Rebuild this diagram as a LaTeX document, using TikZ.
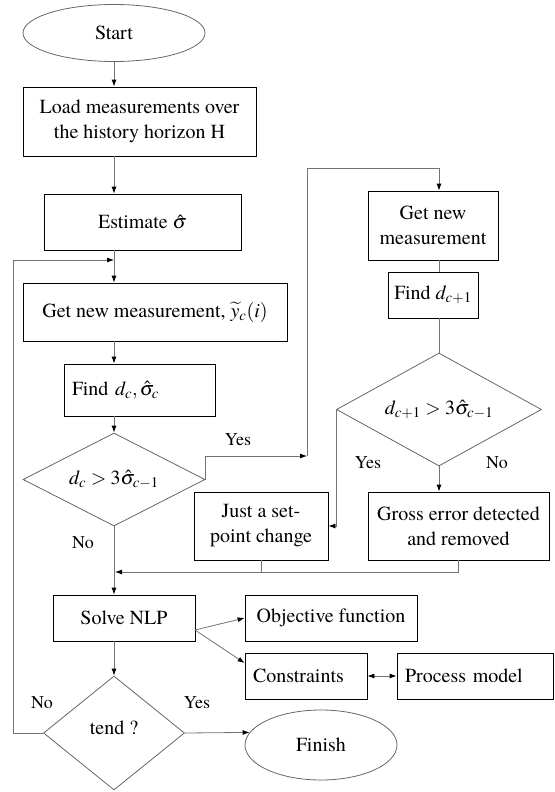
\documentclass[tikz,border=0pt]{standalone}
\usepackage{amsmath}
\usepackage{mathptmx}
\usepackage[no-math]{fontspec}
\setmainfont{texgyretermes-regular.otf}
\usetikzlibrary{arrows.meta,shapes.geometric}

\begin{document}
\begin{tikzpicture}[x=1pt, y=-1pt, line width=0.8pt, font=\fontsize{20}{25}\selectfont, -{Latex[length=7pt,width=5pt,color=black]}]
	\useasboundingbox (0,0) rectangle (554,792);
      \tikzstyle{box} = [draw=black, rectangle, inner sep=4pt, align=center]
      \tikzstyle{terminal} = [draw=black!60, ellipse, inner sep=0pt]
      \tikzstyle{test} = [draw=black!60, diamond, aspect=2, inner sep=0pt]
      \tikzstyle{answer} = [font=\fontsize{18}{22}\selectfont]
      \tikzstyle{link} = [draw=black!55]
      \node (Start) at (114,33) [terminal, minimum width=182pt, minimum height=57pt] {Start};
      \node (loadmeasurements) at (139.5,121.5) [box, minimum width=233pt, minimum height=69pt] {Load measurements over\\the history horizon H};
      \node (estimatesigma) at (142.5,222) [box, minimum width=197pt, minimum height=56pt] {Estimate $\hat{\sigma}$};
      \node (getnew) at (155,312) [box, minimum width=264pt, minimum height=58pt] {Get new measurement, $\widetilde{y}_c(i)$};
      \node (finddc) at (139.5,390) [box, minimum width=151pt, minimum height=52pt, text width=135pt, align=left] {Find $d_c,\hat{\sigma}_c$};
      \node (dctest) at (114,479.5) [test, minimum width=182pt, minimum height=93pt] {$d_c>3\hat{\sigma}_{c-1}$};
      \node (getnewmeasurement) at (433,225.5) [box, minimum width=130pt, minimum height=69pt] {Get new\\measurement};
      \node (finddnext) at (433,295) [box, minimum width=90pt, minimum height=46pt] {Find $d_{c+1}$};
      \node (dnexttest) at (439,409.5) [test, minimum width=205pt, minimum height=113pt] {$d_{c+1}>3\hat{\sigma}_{c-1}$};
      \node (setpointchange) at (261,526) [box, minimum width=134pt, minimum height=68pt] {Just a set-\\point change};
      \node (grosserror) at (458.5,526) [box, minimum width=181pt, minimum height=68pt] {Gross error detected\\and removed};
      \node (solvenlp) at (124,618) [box, minimum width=142pt, minimum height=46pt] {Solve NLP};
      \node (objectivefunction) at (331,618) [box, minimum width=172pt, minimum height=46pt] {Objective function};
      \node (constraints) at (306,676) [box, minimum width=122pt, minimum height=46pt, text width=106pt, align=left] {Constraints};
      \node (processmodel) at (475,676) [box, minimum width=156pt, minimum height=46pt, text width=140pt, align=left] {Process model};
      \node (tend) at (114,733) [test, minimum width=141pt, minimum height=114pt] {\raisebox{10pt}{tend ?}};
      \node (Finish) at (321,745) [terminal, minimum width=152pt, minimum height=70pt] {Finish};
      \node (yesdc) at (238,440) [answer] {Yes};
      \node (nodc) at (83,543) [answer] {No};
      \node (yesdnext) at (368,463) [answer] {Yes};
      \node (nodnext) at (497,463) [answer] {No};
      \node (notend) at (42,703) [answer] {No};
      \node (yestend) at (197,703) [answer] {Yes};
      \coordinate (loopin) at (114,260);
      \coordinate (loopx) at (13,260);
      \coordinate (yesjoin) at (307,456);
      \coordinate (yestop) at (307,168);
      \coordinate (merge) at (115,572);
      \coordinate (fanout) at (195,630);
      \draw[link] (Start.south) -- (Start |- loadmeasurements.north);
      \draw[link] (Start |- loadmeasurements.south) -- (Start |- estimatesigma.north);
      \draw[link] (Start |- estimatesigma.south) -- (Start |- getnew.north);
      \draw[link] (Start |- getnew.south) -- (Start |- finddc.north);
      \draw[link] (Start |- finddc.south) -- (dctest.north);
      \draw[link] (dctest.south) -- (dctest.south |- solvenlp.north);
      \draw[link] (dctest.east) |- (yesjoin);
      \draw[link] (yesjoin) -- (yestop) -| (dnexttest.north |- getnewmeasurement.north);
      \draw[link,-] (dnexttest.north |- getnewmeasurement.south) -- (dnexttest.north |- finddnext.north);
      \draw[link,-] (dnexttest.north |- finddnext.south) -- (dnexttest.north);
      \draw[link] (dnexttest.west) |- (setpointchange.east);
      \draw[link] (dnexttest.south) -- (dnexttest.south |- grosserror.north);
      \draw[link] (grosserror.south) |- (merge);
      \draw[link,-] (setpointchange.south) -- (setpointchange.south |- merge);
      \draw[link] (fanout) -- (objectivefunction.west);
      \draw[link] (fanout) -- ([yshift=13pt]constraints.west);
      \draw[link,{Latex[length=7pt,width=5pt,color=black]}-{Latex[length=7pt,width=5pt,color=black]}] (constraints.east) -- (processmodel.west);
      \draw[link] (Start |- solvenlp.south) -- (tend.north);
      \draw[link] (tend.east) -- (Finish.170);
      \draw[link] (tend.west) -| (loopx) -- (loopin);
\end{tikzpicture}
\end{document}
